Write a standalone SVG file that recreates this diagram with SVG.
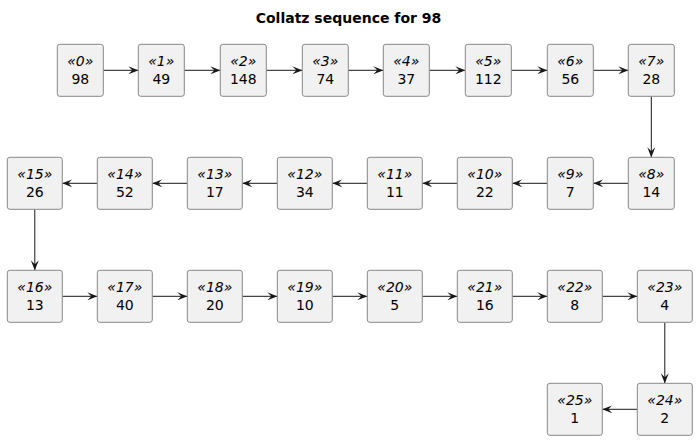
<svg xmlns="http://www.w3.org/2000/svg" width="697" height="440" viewBox="0 0 697 440">
<defs>
<style>
.b{fill:#F1F1F1;stroke:#888888;stroke-width:1}
.s{font-family:"DejaVu Sans",sans-serif;font-size:14px;font-style:italic;fill:#000;text-anchor:middle}
.n{font-family:"DejaVu Sans",sans-serif;font-size:14px;fill:#000;text-anchor:middle}
.e{stroke:#181818;stroke-width:1;fill:none;marker-end:url(#a)}
.t{font-family:"DejaVu Sans",sans-serif;font-size:14px;font-weight:bold;fill:#000;text-anchor:middle}
</style>
<marker id="a" markerWidth="10" markerHeight="8" refX="10" refY="4" orient="auto" markerUnits="userSpaceOnUse">
<path d="M0,0 L10,4 L0,8 L4,4 Z" fill="#181818"/>
</marker>
</defs>
<rect width="697" height="440" fill="#FFFFFF"/>
<text class="t" x="348.5" y="23">Collatz sequence for 98</text>
<g id="connectors">
<line class="e" x1="103.3" y1="70.3" x2="138.3" y2="70.3"/>
<line class="e" x1="184.3" y1="70.3" x2="220.3" y2="70.3"/>
<line class="e" x1="266.3" y1="70.3" x2="302.3" y2="70.3"/>
<line class="e" x1="348.3" y1="70.3" x2="383.3" y2="70.3"/>
<line class="e" x1="429.3" y1="70.3" x2="465.3" y2="70.3"/>
<line class="e" x1="511.3" y1="70.3" x2="547.3" y2="70.3"/>
<line class="e" x1="593.3" y1="70.3" x2="628.3" y2="70.3"/>
<line class="e" x1="651.3" y1="96.3" x2="651.3" y2="157.3"/>
<line class="e" x1="628.3" y1="183.3" x2="593.3" y2="183.3"/>
<line class="e" x1="547.3" y1="183.3" x2="512.3" y2="183.3"/>
<line class="e" x1="457.3" y1="183.3" x2="422.3" y2="183.3"/>
<line class="e" x1="367.3" y1="183.3" x2="332.3" y2="183.3"/>
<line class="e" x1="277.3" y1="183.3" x2="242.3" y2="183.3"/>
<line class="e" x1="187.3" y1="183.3" x2="152.3" y2="183.3"/>
<line class="e" x1="97.3" y1="183.3" x2="62.3" y2="183.3"/>
<line class="e" x1="34.8" y1="209.3" x2="34.8" y2="270.3"/>
<line class="e" x1="62.3" y1="296.3" x2="97.3" y2="296.3"/>
<line class="e" x1="152.3" y1="296.3" x2="187.3" y2="296.3"/>
<line class="e" x1="242.3" y1="296.3" x2="277.3" y2="296.3"/>
<line class="e" x1="332.3" y1="296.3" x2="367.3" y2="296.3"/>
<line class="e" x1="422.3" y1="296.3" x2="457.3" y2="296.3"/>
<line class="e" x1="512.3" y1="296.3" x2="547.3" y2="296.3"/>
<line class="e" x1="602.3" y1="296.3" x2="637.3" y2="296.3"/>
<line class="e" x1="664.8" y1="322.3" x2="664.8" y2="383.3"/>
<line class="e" x1="637.3" y1="409.3" x2="602.3" y2="409.3"/>
</g>
<g id="n0"><rect class="b" x="57.3" y="44.3" width="46" height="52" rx="2.5"/><text class="s" x="80.3" y="65.5">«0»</text><text class="n" x="80.3" y="84">98</text></g>
<g id="n1"><rect class="b" x="138.3" y="44.3" width="46" height="52" rx="2.5"/><text class="s" x="161.3" y="65.5">«1»</text><text class="n" x="161.3" y="84">49</text></g>
<g id="n2"><rect class="b" x="220.3" y="44.3" width="46" height="52" rx="2.5"/><text class="s" x="243.3" y="65.5">«2»</text><text class="n" x="243.3" y="84">148</text></g>
<g id="n3"><rect class="b" x="302.3" y="44.3" width="46" height="52" rx="2.5"/><text class="s" x="325.3" y="65.5">«3»</text><text class="n" x="325.3" y="84">74</text></g>
<g id="n4"><rect class="b" x="383.3" y="44.3" width="46" height="52" rx="2.5"/><text class="s" x="406.3" y="65.5">«4»</text><text class="n" x="406.3" y="84">37</text></g>
<g id="n5"><rect class="b" x="465.3" y="44.3" width="46" height="52" rx="2.5"/><text class="s" x="488.3" y="65.5">«5»</text><text class="n" x="488.3" y="84">112</text></g>
<g id="n6"><rect class="b" x="547.3" y="44.3" width="46" height="52" rx="2.5"/><text class="s" x="570.3" y="65.5">«6»</text><text class="n" x="570.3" y="84">56</text></g>
<g id="n7"><rect class="b" x="628.3" y="44.3" width="46" height="52" rx="2.5"/><text class="s" x="651.3" y="65.5">«7»</text><text class="n" x="651.3" y="84">28</text></g>
<g id="n8"><rect class="b" x="628.3" y="157.3" width="46" height="52" rx="2.5"/><text class="s" x="651.3" y="178.5">«8»</text><text class="n" x="651.3" y="197">14</text></g>
<g id="n9"><rect class="b" x="547.3" y="157.3" width="46" height="52" rx="2.5"/><text class="s" x="570.3" y="178.5">«9»</text><text class="n" x="570.3" y="197">7</text></g>
<g id="n10"><rect class="b" x="457.3" y="157.3" width="55" height="52" rx="2.5"/><text class="s" x="484.8" y="178.5">«10»</text><text class="n" x="484.8" y="197">22</text></g>
<g id="n11"><rect class="b" x="367.3" y="157.3" width="55" height="52" rx="2.5"/><text class="s" x="394.8" y="178.5">«11»</text><text class="n" x="394.8" y="197">11</text></g>
<g id="n12"><rect class="b" x="277.3" y="157.3" width="55" height="52" rx="2.5"/><text class="s" x="304.8" y="178.5">«12»</text><text class="n" x="304.8" y="197">34</text></g>
<g id="n13"><rect class="b" x="187.3" y="157.3" width="55" height="52" rx="2.5"/><text class="s" x="214.8" y="178.5">«13»</text><text class="n" x="214.8" y="197">17</text></g>
<g id="n14"><rect class="b" x="97.3" y="157.3" width="55" height="52" rx="2.5"/><text class="s" x="124.8" y="178.5">«14»</text><text class="n" x="124.8" y="197">52</text></g>
<g id="n15"><rect class="b" x="7.3" y="157.3" width="55" height="52" rx="2.5"/><text class="s" x="34.8" y="178.5">«15»</text><text class="n" x="34.8" y="197">26</text></g>
<g id="n16"><rect class="b" x="7.3" y="270.3" width="55" height="52" rx="2.5"/><text class="s" x="34.8" y="291.5">«16»</text><text class="n" x="34.8" y="310">13</text></g>
<g id="n17"><rect class="b" x="97.3" y="270.3" width="55" height="52" rx="2.5"/><text class="s" x="124.8" y="291.5">«17»</text><text class="n" x="124.8" y="310">40</text></g>
<g id="n18"><rect class="b" x="187.3" y="270.3" width="55" height="52" rx="2.5"/><text class="s" x="214.8" y="291.5">«18»</text><text class="n" x="214.8" y="310">20</text></g>
<g id="n19"><rect class="b" x="277.3" y="270.3" width="55" height="52" rx="2.5"/><text class="s" x="304.8" y="291.5">«19»</text><text class="n" x="304.8" y="310">10</text></g>
<g id="n20"><rect class="b" x="367.3" y="270.3" width="55" height="52" rx="2.5"/><text class="s" x="394.8" y="291.5">«20»</text><text class="n" x="394.8" y="310">5</text></g>
<g id="n21"><rect class="b" x="457.3" y="270.3" width="55" height="52" rx="2.5"/><text class="s" x="484.8" y="291.5">«21»</text><text class="n" x="484.8" y="310">16</text></g>
<g id="n22"><rect class="b" x="547.3" y="270.3" width="55" height="52" rx="2.5"/><text class="s" x="574.8" y="291.5">«22»</text><text class="n" x="574.8" y="310">8</text></g>
<g id="n23"><rect class="b" x="637.3" y="270.3" width="55" height="52" rx="2.5"/><text class="s" x="664.8" y="291.5">«23»</text><text class="n" x="664.8" y="310">4</text></g>
<g id="n24"><rect class="b" x="637.3" y="383.3" width="55" height="52" rx="2.5"/><text class="s" x="664.8" y="404.5">«24»</text><text class="n" x="664.8" y="423">2</text></g>
<g id="n25"><rect class="b" x="547.3" y="383.3" width="55" height="52" rx="2.5"/><text class="s" x="574.8" y="404.5">«25»</text><text class="n" x="574.8" y="423">1</text></g>
</svg>
